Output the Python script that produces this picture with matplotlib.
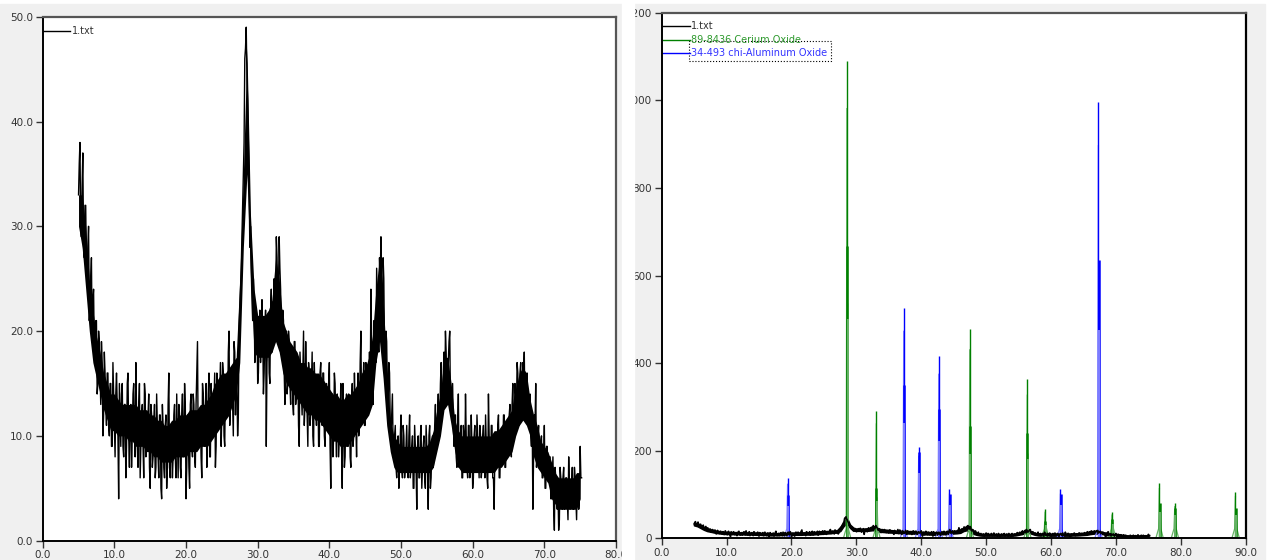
import numpy as np
import matplotlib
matplotlib.use("Agg")
import matplotlib.pyplot as plt
from matplotlib.patches import Rectangle
from matplotlib.ticker import FormatStrFormatter

# measured pattern "1.txt", read off the trace in two interleaved passes
# pass A: 5.0, 5.2, ... 75.2
counts_a_start = 5.0
counts_step = 0.2
counts_a = [
    33, 38, 29, 37, 27, 32, 25, 30, 22, 27,
    23, 18, 21, 14, 20, 16, 19, 10, 18, 13,
    16, 11, 15, 9, 17, 11, 14, 13, 4, 12,
    14, 9, 13, 6, 15, 10, 12, 7, 14, 10,
    17, 9, 13, 6, 12, 9, 15, 8, 11, 14,
    5, 12, 8, 13, 7, 11, 6, 12, 4, 11,
    6, 12, 7, 16, 6, 11, 8, 13, 6, 10,
    13, 7, 12, 8, 15, 4, 12, 7, 13, 9,
    14, 8, 13, 19, 9, 12, 6, 14, 9, 15,
    10, 16, 8, 13, 10, 16, 9, 14, 11, 17,
    12, 16, 9, 15, 12, 20, 13, 16, 10, 18,
    16, 10, 20, 24, 29, 35, 46, 49, 42, 35,
    30, 23, 25, 17, 22, 15, 20, 17, 23, 14,
    20, 9, 19, 16, 22, 18, 23, 19, 29, 22,
    29, 24, 18, 21, 13, 20, 15, 19, 13, 17,
    12, 19, 14, 17, 9, 16, 12, 20, 13, 15,
    9, 16, 12, 18, 9, 14, 11, 15, 9, 17,
    11, 16, 9, 15, 12, 17, 5, 14, 10, 15,
    8, 13, 10, 15, 5, 12, 8, 14, 9, 13,
    7, 15, 10, 13, 8, 16, 11, 20, 12, 17,
    11, 16, 13, 18, 24, 15, 21, 18, 26, 20,
    27, 29, 21, 25, 17, 19, 13, 16, 10, 14,
    9, 11, 6, 10, 7, 12, 6, 10, 7, 11,
    6, 12, 7, 10, 5, 9, 3, 10, 6, 11,
    7, 10, 5, 9, 3, 11, 6, 10, 8, 13,
    9, 14, 11, 17, 13, 18, 20, 14, 17, 20,
    13, 15, 9, 12, 7, 14, 8, 11, 6, 10,
    14, 7, 11, 6, 12, 5, 10, 7, 12, 8,
    11, 6, 10, 8, 12, 6, 14, 7, 11, 6,
    3, 10, 7, 12, 6, 10, 8, 12, 7, 11,
    9, 13, 8, 15, 11, 14, 17, 12, 16, 13,
    17, 18, 13, 16, 11, 14, 9, 3, 12, 15,
    8, 11, 7, 10, 6, 11, 5, 9, 6, 8,
    4, 8, 1, 6, 3, 1, 7, 4, 6, 3,
    6, 4, 8, 3, 5, 3, 7, 4, 6, 3,
    9, 6,
]
# pass B: 5.1, 5.3, ... 75.1
counts_b_start = 5.1
counts_b = [
    36, 30, 34, 28, 32, 26, 28, 21, 25, 19,
    24, 17, 21, 15, 19, 13, 17, 12, 16, 11,
    16, 10, 15, 9, 14, 8, 16, 10, 15, 9,
    15, 8, 13, 9, 16, 7, 13, 10, 15, 8,
    12, 7, 15, 9, 13, 6, 14, 10, 12, 7,
    13, 7, 11, 6, 14, 8, 12, 5, 13, 7,
    11, 5, 13, 7, 10, 6, 12, 8, 14, 6,
    12, 6, 14, 9, 13, 7, 11, 5, 14, 8,
    13, 7, 16, 9, 12, 8, 15, 10, 13, 7,
    14, 8, 15, 10, 13, 7, 16, 11, 14, 9,
    17, 10, 15, 12, 18, 11, 16, 13, 19, 12,
    15, 12, 22, 26, 32, 38, 47, 44, 38, 28,
    26, 21, 23, 18, 21, 16, 22, 19, 20, 16,
    22, 17, 21, 15, 24, 19, 25, 20, 27, 24,
    26, 20, 22, 16, 19, 14, 20, 15, 18, 13,
    19, 13, 17, 11, 18, 14, 16, 11, 19, 12,
    17, 11, 15, 10, 17, 13, 15, 9, 16, 12,
    16, 10, 14, 12, 15, 9, 13, 8, 16, 11,
    14, 8, 12, 9, 15, 7, 13, 10, 14, 8,
    13, 9, 16, 11, 14, 10, 17, 12, 15, 11,
    17, 12, 15, 14, 19, 13, 21, 17, 23, 18,
    25, 22, 27, 18, 20, 14, 17, 11, 12, 9,
    10, 7, 9, 5, 10, 7, 11, 6, 9, 7,
    10, 6, 9, 5, 11, 7, 9, 6, 10, 5,
    9, 6, 11, 7, 10, 5, 9, 7, 11, 9,
    12, 10, 15, 12, 16, 13, 18, 15, 19, 13,
    14, 11, 12, 8, 11, 7, 10, 6, 11, 7,
    10, 6, 11, 8, 9, 6, 11, 7, 10, 6,
    10, 7, 11, 6, 9, 5, 10, 7, 11, 6,
    9, 7, 11, 6, 10, 8, 12, 7, 11, 9,
    12, 9, 13, 11, 15, 12, 16, 11, 17, 14,
    16, 12, 15, 11, 13, 10, 12, 8, 11, 7,
    10, 7, 9, 6, 8, 5, 9, 6, 8, 4,
    6, 3, 7, 4, 5, 2, 6, 3, 7, 4,
    6, 2, 5, 4, 7, 3, 6, 2, 5, 4,
    6,
]

# dense noise band of the trace (solid black core), every 0.5 deg from 5.0 to 75.0
band_start = 5.0
band_step = 0.5
band_lo = [
    30, 28, 24, 20, 17, 15.5, 14, 12.5, 11.5, 10.5,
    10.5, 10, 10, 10, 9.5, 9.5, 9, 9, 9, 8.5,
    8.5, 8, 8, 7.5, 7.5, 7.5, 7.5, 8, 8, 8,
    8, 8.5, 8.5, 8.5, 9, 9, 9, 9.5, 10, 10.5,
    11, 11.5, 12, 13, 14, 17, 28, 35, 25, 18,
    17.5, 17.5, 17.5, 17.5, 18, 19, 18, 16, 15, 14.5,
    14, 13.5, 13, 12.5, 12, 12, 11.5, 11.5, 11, 10.5,
    10, 9.5, 9.5, 9, 9, 9, 9.5, 10, 10.5, 11,
    11.5, 12, 13, 17, 19, 15.5, 11, 8.5, 7, 6.5,
    6.5, 6.5, 6.5, 6.5, 6.5, 6.5, 6.5, 6.5, 6.5, 7,
    8.5, 10, 12.5, 13, 11, 8.5, 7, 6.5, 6.5, 6.5,
    6.5, 6.5, 6.5, 6.5, 6.5, 6.5, 6.5, 7, 7, 7.5,
    8, 8.5, 10, 11, 11.5, 11, 10, 8, 7, 6.5,
    6, 5.5, 4, 3.5, 3, 3, 3, 3, 3, 3,
    4,
]
band_hi = [
    33, 33, 30, 25, 22, 19.5, 18, 16, 15, 14,
    14, 13.5, 13, 13, 13, 13, 13, 12.5, 12.5, 12.5,
    12, 12, 11.5, 11.5, 11, 11, 11.5, 11.5, 12, 12,
    12, 12.5, 12.5, 12.5, 13, 13, 13.5, 14, 15, 15.5,
    16, 16, 16.5, 17, 17.5, 25, 35, 47, 31, 24,
    21.5, 21.5, 21.5, 22, 23, 27, 25, 21, 20, 19,
    18.5, 18, 17, 17, 16.5, 16.5, 16, 16, 15.5, 15,
    14.5, 14, 14, 13.5, 13.5, 14, 14, 14.5, 15, 16,
    16.5, 17.5, 19.5, 24, 27, 23, 17, 11.5, 10, 9.5,
    9, 9, 9, 9, 9, 9, 9, 9, 9.5, 10.5,
    12.5, 14, 17.5, 17.5, 15, 11.5, 10.5, 10, 10, 10,
    10, 10, 10, 10, 10, 10, 10.5, 10.5, 11, 11.5,
    12, 12.5, 14.5, 16, 16.5, 16, 13.5, 12, 11, 9.5,
    9, 8.5, 7.5, 6.5, 6, 6, 6, 6, 6, 6.5,
    6.5,
]

# reference patterns: position, intensity, K-alpha2 shoulder intensity
ceo2_label = "89-8436 Cerium Oxide"
ceo2_pos = [28.55, 33.08, 47.48, 56.34, 59.09, 69.40, 76.70, 79.07, 88.42]
ceo2_int = [1090, 290, 478, 363, 66, 59, 126, 80, 106]
ceo2_sh = [668, 115, 257, 240, 40, 45, 80, 70, 70]

al2o3_label = "34-493 chi-Aluminum Oxide"
al2o3_pos = [19.40, 37.30, 39.60, 42.70, 44.35, 61.45, 67.30]
al2o3_int = [137, 525, 208, 416, 112, 112, 996]
al2o3_sh = [99, 350, 198, 295, 100, 100, 635]

W, H = 1269, 560
GRAY = "#f0f0f0"


def px_rect(x0, y0, x1, y1):
    # figure-fraction rect from pixel box (top-left origin)
    return [x0 / W, 1 - y1 / H, (x1 - x0) / W, (y1 - y0) / H]


def style_axes(ax):
    ax.set_facecolor("white")
    for side in ("left", "bottom"):
        ax.spines[side].set_color("black")
        ax.spines[side].set_linewidth(1.4)
    for side in ("top", "right"):
        ax.spines[side].set_color("#555555")
        ax.spines[side].set_linewidth(1.6)
    ax.tick_params(direction="out", length=5, width=1, color="#333333",
                   labelsize=7.5, labelcolor="#333333", pad=2)


def draw_refs(ax, pos, ints, shoulders, dark, light):
    for p, h, s in zip(pos, ints, shoulders):
        ax.plot([p - 0.55, p - 0.12, p], [0, 22, h * 0.9], color=light, lw=0.9)
        ax.plot([p + 0.1, p + 0.22, p + 0.6], [s * 0.8, 22, 0], color=light, lw=0.9)
        ax.vlines(p, 0, h, color=dark, lw=1.0)
        ax.vlines(p + 0.02, 0, s, color=dark, lw=1.8)
        ax.vlines(p + 0.09, 0, s * 0.75, color=light, lw=1.4)


xa = counts_a_start + counts_step * np.arange(len(counts_a))
xbb = counts_b_start + counts_step * np.arange(len(counts_b))
x_all = np.concatenate([xa, xbb])
y_all = np.concatenate([counts_a, counts_b])
order = np.argsort(x_all)
x = x_all[order]
y = y_all[order]
xb = band_start + band_step * np.arange(len(band_lo))

fig = plt.figure(figsize=(W / 100, H / 100), dpi=100, facecolor="white")

# window backgrounds
fig.add_artist(Rectangle((0, 0), 622 / W, 1 - 4 / H, transform=fig.transFigure,
                         color=GRAY, zorder=-10))
fig.add_artist(Rectangle((634 / W, 0), (1265 - 634) / W, 1 - 4 / H,
                         transform=fig.transFigure, color=GRAY, zorder=-10))

# left panel
ax1 = fig.add_axes(px_rect(42.7, 16.7, 616, 540.7))
style_axes(ax1)
ax1.fill_between(xb, band_lo, band_hi, color="black", lw=0)
ax1.plot(x, y, color="black", lw=1.0)
ax1.set_xlim(0, 80)
ax1.set_ylim(0, 50)
ax1.set_xticks(np.arange(0, 81, 10))
ax1.set_yticks(np.arange(0, 51, 10))
ax1.xaxis.set_major_formatter(FormatStrFormatter("%.1f"))
ax1.yaxis.set_major_formatter(FormatStrFormatter("%.1f"))
ax1.plot([0, 0.0476], [0.973, 0.973], color="black", lw=1, transform=ax1.transAxes,
         clip_on=False)
ax1.text(0.051, 0.973, "1.txt", transform=ax1.transAxes, fontsize=7,
         va="center", ha="left", color="#333333")

# right panel
ax2 = fig.add_axes(px_rect(661.7, 12.7, 1245.7, 538.3))
style_axes(ax2)
ax2.spines["right"].set_color("black")
draw_refs(ax2, ceo2_pos, ceo2_int, ceo2_sh, "#008000", "#66b366")
draw_refs(ax2, al2o3_pos, al2o3_int, al2o3_sh, "#0000ff", "#8080ff")
ax2.fill_between(xb, band_lo, band_hi, color="black", lw=1.4, ec="black")
ax2.plot(x, y, color="black", lw=1.2)
ax2.set_xlim(0, 90)
ax2.set_ylim(0, 1200)
ax2.set_xticks(np.arange(0, 91, 10))
ax2.set_yticks(np.arange(0, 1201, 200))
ax2.xaxis.set_major_formatter(FormatStrFormatter("%.1f"))
ax2.yaxis.set_major_formatter(FormatStrFormatter("%d"))

legend_rows = [("1.txt", "black", "#333333", 0.9747),
               (ceo2_label, "#008000", "#2e9a2e", 0.948),
               (al2o3_label, "#0000ff", "#3333ff", 0.9233)]
for label, lc, tc, yy in legend_rows:
    ax2.plot([0, 0.0485], [yy, yy], color=lc, lw=1, transform=ax2.transAxes,
             clip_on=False)
    ax2.text(0.050, yy, label, transform=ax2.transAxes, fontsize=7,
             va="center", ha="left", color=tc)
ax2.add_patch(Rectangle((0.0467, 0.9087), 0.2427, 0.0376, transform=ax2.transAxes,
                        fill=False, ls=":", lw=0.8, ec="black"))

# gap between the two windows (clips tick labels like the screenshots)
fig.add_artist(Rectangle((622 / W, 0), 12 / W, 1, transform=fig.transFigure,
                         color="white", zorder=10))

fig.savefig("out.png", dpi=100, facecolor=fig.get_facecolor())
